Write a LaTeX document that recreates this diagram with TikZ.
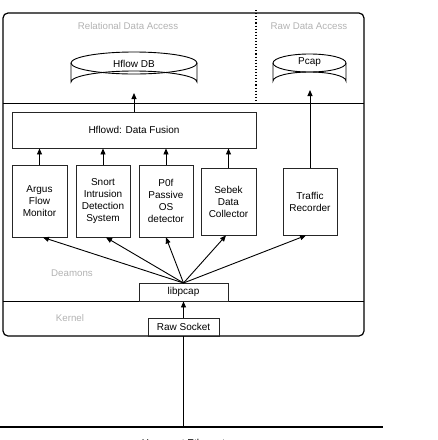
\documentclass[tikz,border=0pt]{standalone}
\usepackage{fontspec}
\setmainfont{Liberation Sans}
\usetikzlibrary{arrows.meta}
\begin{document}
\begin{tikzpicture}[x=1pt,y=-1pt,
  box/.style={draw=black!85,line width=0.9pt,inner sep=0pt,align=center,font=\fontsize{10}{12}\selectfont},
  lay/.style={text=black!30,font=\fontsize{9.7}{11}\selectfont},
  arr/.style={line width=0.9pt,-{Triangle[width=5pt,length=6pt]}},
  txt/.style={font=\fontsize{10}{12}\selectfont}]
\useasboundingbox (0,0) rectangle (438,440);
\clip (0,0) rectangle (438,440);
% outer frame
\draw[line width=1.2pt,rounded corners=5pt] (3,13) rectangle (364,336);
\draw[line width=0.9pt] (3,103) -- (364,103);
\draw[line width=0.9pt] (3,301) -- (364,301);
\draw[line width=1.1pt,dotted] (256,10) -- (256,102);
% layer labels
\node[lay] (lrel) at (128,26) {Relational Data Access};
\node[lay] (lraw) at (309,26) {Raw Data Access};
\node[lay] (ldea) at (72,273) {Deamons};
\node[lay] (lker) at (70,318) {Kernel};
% cylinders
\draw[line width=0.9pt,fill=white] (71,63) -- (71,82) arc[start angle=180,end angle=360,x radius=63,y radius=11] -- (197,63);
\draw[line width=0.9pt] (134,63) ellipse[x radius=63,y radius=11];
\node[txt] (db) at (134,64) {Hflow DB};
\coordinate (dbbot) at (134,93);
\draw[line width=0.9pt] (273,63) -- (273,81) arc[start angle=180,end angle=360,x radius=36.5,y radius=9] -- (346,63);
\draw[line width=0.9pt] (309.5,63) ellipse[x radius=36.5,y radius=9];
\node[txt] (pcap) at (309.5,62) {Pcap};
\coordinate (pcapbot) at (310,90);
% boxes
\node[box,minimum width=244,minimum height=36] (fusion) at (134,130) {Hflowd: Data Fusion};
\node[box,minimum width=55,minimum height=72] (argus) at (39.5,201) {Argus\\Flow\\Monitor};
\node[box,minimum width=54,minimum height=72] (snort) at (103,201) {Snort\\Intrusion\\Detection\\System};
\node[box,minimum width=54,minimum height=72] (p0f) at (166,201) {P0f\\Passive\\OS\\detector};
\node[box,minimum width=55,minimum height=67] (sebek) at (228.5,201.5) {Sebek\\Data\\Collector};
\node[box,minimum width=54,minimum height=67] (traffic) at (310,201.5) {Traffic\\Recorder};
\node[box,minimum width=89,minimum height=18] (libpcap) at (183.5,292) {libpcap};
\node[box,minimum width=71,minimum height=18] (raw) at (183.5,327) {Raw Socket};
% arrows
\draw[arr] (fusion.north) -- (dbbot);
\draw[arr] (traffic.north) -- (pcapbot);
\draw[arr] (argus.north) -- (argus.north |- fusion.south);
\draw[arr] (snort.north) -- (snort.north |- fusion.south);
\draw[arr] (p0f.north) -- (p0f.north |- fusion.south);
\draw[arr] (sebek.north) -- (sebek.north |- fusion.south);
\coordinate (lp) at (183.5,283);
\draw[arr] (lp) -- ([xshift=3.5pt]argus.south);
\draw[arr] (lp) -- ([xshift=3pt]snort.south);
\draw[arr] (lp) -- (p0f.south);
\draw[arr] (lp) -- ([xshift=-2.5pt]sebek.south);
\draw[arr] (lp) -- ([xshift=-4pt]traffic.south);
\draw[arr] (raw.north) -- (libpcap.south);
% ethernet
\coordinate (ethl) at (0,427);
\coordinate (ethr) at (383,427);
\draw[line width=2pt] (ethl) -- (ethr);
\coordinate (tap) at (183.5,427);
\draw[line width=0.9pt] (raw.south) -- (tap);
\node[txt,anchor=north] (eth) at (183.5,436) {Honeynet Ethernet};
\end{tikzpicture}
\end{document}
